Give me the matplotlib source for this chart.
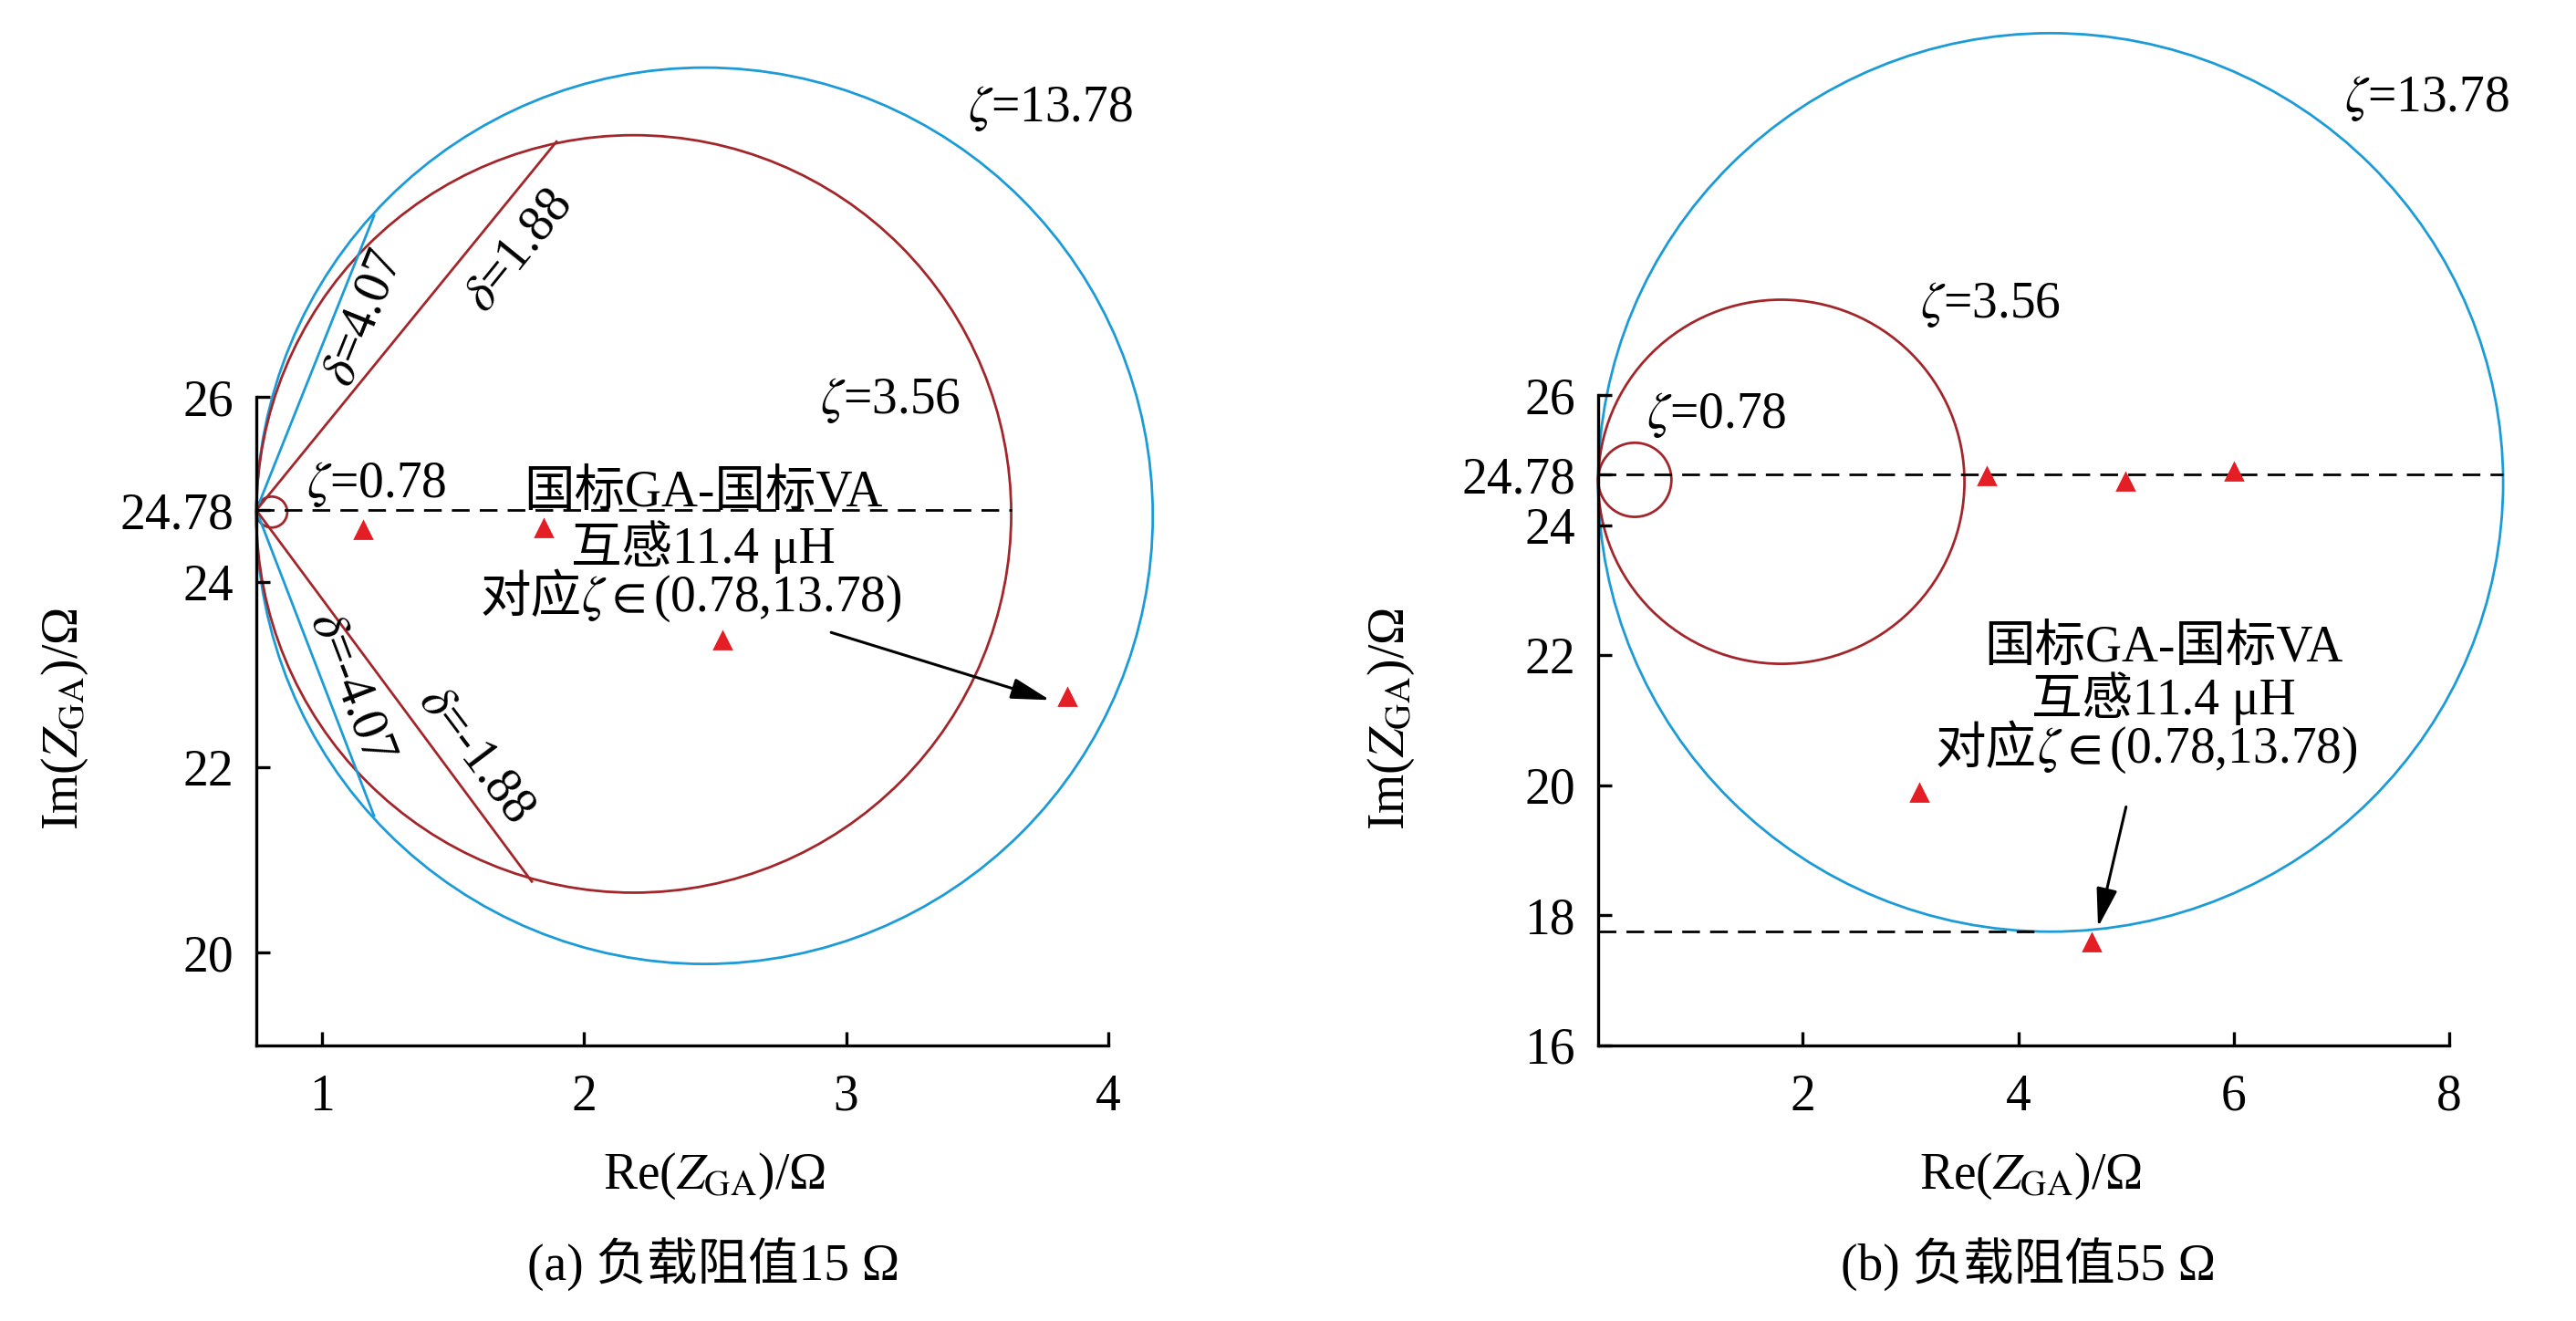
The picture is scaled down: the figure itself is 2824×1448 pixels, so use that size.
import numpy as np
import matplotlib.pyplot as plt
from matplotlib.patches import Ellipse

plt.rcParams['font.family'] = ['Liberation Serif', 'Noto Sans CJK SC']
plt.rcParams['mathtext.fontset'] = 'stix'
plt.rcParams['font.size'] = 20

BLUE = '#1b9bd7'
DRED = '#a3262b'
TRI = '#e31e24'

# ---- panel (a): load 15 ohm ----
a_zeta_lbl = ['13.78', '3.56', '0.78']
a_circ_cx = [2.46, 2.19, 0.809]
a_circ_cy = [24.72, 24.74, 24.76]
a_circ_w = [3.42, 2.88, 0.118]
a_circ_h = [9.68, 8.18, 0.334]

a_origin = (0.75, 24.78)
a_delta_lbl = ['4.07', '1.88', '-4.07', '-1.88']
a_delta_x = [1.199, 1.895, 1.199, 1.801]
a_delta_y = [27.96, 28.76, 21.48, 20.77]

a_tri_x = [1.157, 1.846, 2.529, 3.844]
a_tri_y = [24.57, 24.59, 23.37, 22.76]

a_xticks = [1, 2, 3, 4]
a_yticks = [20, 22, 24, 24.78, 26]
a_ytick_lbl = ['20', '22', '24', '24.78', '26']

# ---- panel (b): load 55 ohm ----
b_zeta_lbl = ['13.78', '3.56', '0.78']
b_circ_cx = [4.30, 1.80, 0.44]
b_circ_cy = [24.66, 24.67, 24.70]
b_circ_w = [8.40, 3.40, 0.68]
b_circ_h = [13.82, 5.60, 1.14]

b_tri_x = [3.71, 4.99, 6.0, 3.08, 4.68]
b_tri_y = [24.75, 24.67, 24.83, 19.89, 17.59]
b_min_y = 17.75

b_xticks = [2, 4, 6, 8]
b_yticks = [16, 18, 20, 22, 24, 24.78, 26]
b_ytick_lbl = ['16', '18', '20', '22', '24', '24.78', '26']

note_lines = ['国标GA-国标VA', '互感11.4 μH']
note_cn = '对应'
note_math = '$\\zeta\\in$(0.78,13.78)'

fig = plt.figure(figsize=(14.12, 7.24), dpi=200)
ax1 = fig.add_axes([0.0995, 0.2086, 0.3307, 0.7914])
ax2 = fig.add_axes([0.6204, 0.2086, 0.3304, 0.7914])


def style_axes(ax, xlim, ylim, ytop, xt, yt, ytl):
    ax.set_xlim(*xlim)
    ax.set_ylim(*ylim)
    for s in ['top', 'right']:
        ax.spines[s].set_visible(False)
    ax.spines['left'].set_bounds(ylim[0], ytop)
    for s in ['left', 'bottom']:
        ax.spines[s].set_linewidth(1.2)
    ax.set_xticks(xt)
    ax.set_yticks(yt)
    ax.set_yticklabels(ytl)
    ax.tick_params(direction='in', length=5.5, width=1.2, labelsize=20)
    ax.tick_params(axis='y', pad=9)
    ax.tick_params(axis='x', pad=11)
    ax.set_xlabel('Re($Z_{\\mathrm{GA}}$)/Ω', fontsize=20)
    ax.set_ylabel('Im($Z_{\\mathrm{GA}}$)/Ω', fontsize=20)
    ax.xaxis.label.set_va('center')
    ax.yaxis.label.set_va('center')


def circles(ax, cx, cy, w, h):
    cols = [BLUE, DRED, DRED]
    for i in range(len(cx)):
        ax.add_patch(Ellipse((cx[i], cy[i]), w[i], h[i], fill=False,
                             ec=cols[i], lw=1.0, clip_on=False))


def arrow(ax, tail, head):
    ax.annotate('', xy=head, xytext=tail,
                arrowprops=dict(arrowstyle='-|>,head_length=1.3,head_width=0.35',
                                mutation_scale=10, color='black', lw=1.1,
                                shrinkA=0, shrinkB=0))


def note(ax, x, ys, xsplit):
    for i in range(2):
        ax.text(x, ys[i], note_lines[i], ha='center', va='center')
    ax.text(xsplit, ys[2], note_cn, ha='right', va='center')
    ax.text(xsplit, ys[2], note_math, ha='left', va='center')


# panel (a)
style_axes(ax1, (0.75, 4), (19, 30.29), 26, a_xticks, a_yticks, a_ytick_lbl)
circles(ax1, a_circ_cx, a_circ_cy, a_circ_w, a_circ_h)
dcol = [BLUE, DRED, BLUE, DRED]
for i in range(len(a_delta_x)):
    ax1.plot([a_origin[0], a_delta_x[i]], [a_origin[1], a_delta_y[i]],
             color=dcol[i], lw=1.0)
ax1.plot([0.75, a_circ_cx[1] + a_circ_w[1] / 2], [24.78, 24.78], color='black',
         lw=1.0, ls=(0, (7, 4)))
ax1.plot(a_tri_x, a_tri_y, '^', color=TRI, ms=6.5, ls='none')
arrow(ax1, (2.943, 23.46), (3.778, 22.73))

ax1.text(3.78, 29.12, '$\\zeta$=' + a_zeta_lbl[0], ha='center', va='center')
ax1.text(3.17, 25.96, '$\\zeta$=' + a_zeta_lbl[1], ha='center', va='center')
ax1.text(1.21, 25.06, '$\\zeta$=' + a_zeta_lbl[2], ha='center', va='center')
dpos = [(1.161, 26.85, 68), (1.752, 27.58, 51), (1.112, 22.87, -69), (1.585, 22.14, -53)]
for i, (x, y, r) in enumerate(dpos):
    ax1.text(x, y, '$\\delta$=' + a_delta_lbl[i], ha='center', va='center',
             rotation=r, rotation_mode='anchor')
note(ax1, 2.455, [24.96, 24.38, 23.82], 1.99)
ax1.xaxis.set_label_coords(0.537, -0.125)
ax1.yaxis.set_label_coords(-0.224, 0.312)

# panel (b)
style_axes(ax2, (0.1, 8), (16, 32.08), 26, b_xticks, b_yticks, b_ytick_lbl)
circles(ax2, b_circ_cx, b_circ_cy, b_circ_w, b_circ_h)
ax2.plot([0.1, b_circ_cx[0] + b_circ_w[0] / 2], [24.78, 24.78], color='black',
         lw=1.0, ls=(0, (7, 4)), clip_on=False)
ax2.plot([0.1, 4.17], [b_min_y, b_min_y], color='black', lw=1.0, ls=(0, (7, 4)))
ax2.plot(b_tri_x, b_tri_y, '^', color=TRI, ms=6.5, ls='none')
arrow(ax2, (5.0, 19.67), (4.74, 17.82))

ax2.text(7.79, 30.56, '$\\zeta$=' + b_zeta_lbl[0], ha='center', va='center')
ax2.text(3.74, 27.39, '$\\zeta$=' + b_zeta_lbl[1], ha='center', va='center')
ax2.text(1.20, 25.69, '$\\zeta$=' + b_zeta_lbl[2], ha='center', va='center')
note(ax2, 5.35, [22.10, 21.33, 20.54], 4.17)
ax2.xaxis.set_label_coords(0.508, -0.125)
ax2.yaxis.set_label_coords(-0.243, 0.312)

fig.text(0.2769, 0.0428, '(a) 负载阻值15 Ω', ha='center', va='center', fontsize=20)
fig.text(0.7872, 0.0428, '(b) 负载阻值55 Ω', ha='center', va='center', fontsize=20)

fig.savefig('out.png', dpi=200)
